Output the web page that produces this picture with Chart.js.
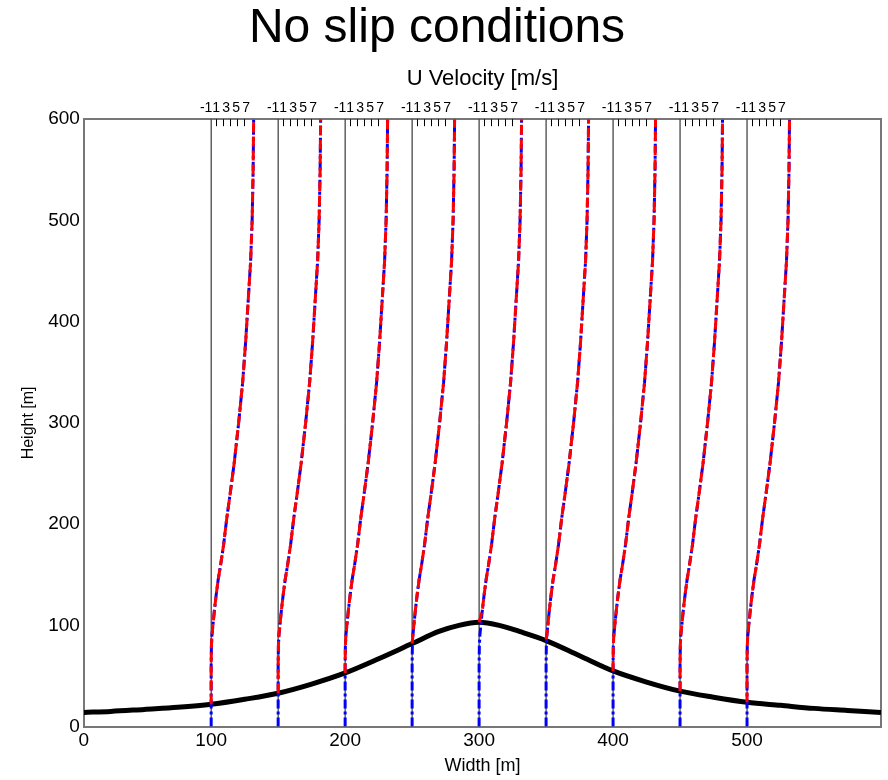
<!DOCTYPE html>
<html>
<head>
<meta charset="utf-8">
<script src="https://cdn.jsdelivr.net/npm/chart.js@4"></script>
<style>
  body { margin: 0; background: #fff; }
</style>
</head>
<body>
<canvas id="myChart" width="888" height="780"></canvas>
<script>
// profile stations along the width [m] and ground height under each of them
const stations = [100, 150, 200, 250, 300, 350, 400, 450, 500];
const groundAtStation = [22, 33, 53, 82, 103, 86, 55, 35, 24];

// terrain (hill)
const terrainX = [5, 25, 50, 75, 100, 125, 150, 175, 200, 225, 250, 270, 285, 300, 315, 330, 350, 375, 400, 425, 450, 475, 500, 525, 550, 575, 600];
const terrainY = [14, 15, 17, 19, 22, 27, 33, 42, 53, 67, 82, 94, 100, 103, 100, 94, 85, 70, 55, 44, 35, 29, 24, 21, 18, 16, 14];

// U velocity profile [m/s] against height [m] (same shape at every station)
const heights  = [0, 20, 40, 60, 80, 90, 100, 115, 130, 145, 160, 180, 205, 230, 260, 300, 340, 380, 420, 460, 500, 550, 600];
const uProfile = [0, 0, 0, 0, 0.05, 0.15, 0.35, 0.65, 1.0, 1.4, 1.9, 2.5, 3.1, 3.8, 4.6, 5.5, 6.3, 6.9, 7.4, 7.9, 8.2, 8.4, 8.5];

// tick labels
const uTickLabels = [-1, 1, 3, 5, 7];
const uMinorTicks = [1, 2.4, 3.8, 5.2, 6.6];
const xTickValues = [5, 100, 200, 300, 400, 500];
const yTickValues = [0, 100, 200, 300, 400, 500, 600];

const titleText = 'No slip conditions';
const uScale = 3.73; // metres of width per 1 m/s of velocity
const FONT = "'Liberation Sans', Arial, sans-serif";

const datasets = [];

// red profiles (from the ground up) on top, blue profiles (whole column) below
stations.forEach((s, i) => {
  const red = [{x: s, y: groundAtStation[i]}];
  heights.forEach((h, k) => {
    if (h > groundAtStation[i]) red.push({x: s + uProfile[k] * uScale, y: h});
  });
  datasets.push({
    data: red,
    borderColor: '#ff0000',
    borderWidth: 3,
    borderDash: [10, 4],
    order: 1
  });
  datasets.push({
    data: heights.map((h, k) => ({x: s + uProfile[k] * uScale, y: h})),
    borderColor: '#0000ff',
    borderWidth: 3,
    borderDash: [9, 3, 3, 3],
    order: 2
  });
});

datasets.push({
  data: terrainX.map((x, i) => ({x: x, y: terrainY[i]})),
  borderColor: '#000',
  borderWidth: 5,
  cubicInterpolationMode: 'monotone',
  order: 3
});

stations.forEach(s => {
  datasets.push({
    data: [{x: s, y: 0}, {x: s, y: 600}],
    borderColor: '#111',
    borderWidth: 1,
    order: 4
  });
});

// small tick marks hanging inside the top border
const innerTicks = {
  id: 'innerTicks',
  afterDatasetsDraw(chart) {
    const sx = chart.scales.x;
    const top = chart.chartArea.top;
    const ctx = chart.ctx;
    ctx.save();
    ctx.strokeStyle = '#000';
    ctx.lineWidth = 1;
    stations.forEach(s => uMinorTicks.forEach(u => {
      const px = Math.round(sx.getPixelForValue(s + u * uScale)) + 0.5;
      ctx.beginPath();
      ctx.moveTo(px, top);
      ctx.lineTo(px, top + 7);
      ctx.stroke();
    }));
    ctx.restore();
  }
};

// big title, centred on the page rather than on the plot
const pageTitle = {
  id: 'pageTitle',
  afterDraw(chart) {
    const ctx = chart.ctx;
    ctx.save();
    ctx.fillStyle = '#000';
    ctx.font = '48px ' + FONT;
    ctx.textAlign = 'center';
    ctx.textBaseline = 'middle';
    ctx.fillText(titleText, 437, 29);
    ctx.restore();
  }
};

new Chart(document.getElementById('myChart').getContext('2d'), {
  type: 'scatter',
  data: {datasets: datasets},
  options: {
    responsive: false,
    animation: false,
    devicePixelRatio: 1,
    layout: {padding: {left: 19, right: 7, top: 66, bottom: 3}},
    datasets: {scatter: {showLine: true, pointRadius: 0, fill: false}},
    plugins: {
      legend: {display: false},
      tooltip: {enabled: false},
      title: {display: false}
    },
    scales: {
      x: {
        type: 'linear',
        position: 'bottom',
        min: 5,
        max: 600,
        afterBuildTicks: axis => { axis.ticks = xTickValues.map(v => ({value: v})); },
        ticks: {
          callback: v => (v < 50 ? '0' : v),
          color: '#000',
          font: {family: FONT, size: 19},
          maxRotation: 0,
          padding: 3
        },
        grid: {display: false, drawTicks: false},
        border: {display: true, color: '#777', width: 2},
        title: {display: true, text: 'Width [m]', color: '#000', font: {family: FONT, size: 18}, padding: 0}
      },
      xTop: {
        type: 'linear',
        position: 'top',
        min: 5,
        max: 600,
        afterBuildTicks: axis => {
          axis.ticks = stations.flatMap(s => uTickLabels.map(u => ({value: s + u * uScale})));
        },
        ticks: {
          callback: (v, i) => uTickLabels[i % uTickLabels.length],
          autoSkip: false,
          maxRotation: 0,
          minRotation: 0,
          color: '#000',
          font: {family: FONT, size: 14},
          padding: 3
        },
        grid: {display: false, drawTicks: false},
        border: {display: true, color: '#777', width: 2},
        title: {display: true, text: 'U Velocity [m/s]', color: '#000', font: {family: FONT, size: 22}, padding: {top: 0, bottom: 4}}
      },
      y: {
        type: 'linear',
        min: 0,
        max: 600,
        afterBuildTicks: axis => { axis.ticks = yTickValues.map(v => ({value: v})); },
        ticks: {color: '#000', font: {family: FONT, size: 19}, padding: 4},
        grid: {display: false, drawTicks: false},
        border: {display: true, color: '#777', width: 2},
        title: {display: true, text: 'Height [m]', color: '#000', font: {family: FONT, size: 16}, padding: {top: 0, bottom: 6}}
      },
      y2: {
        type: 'linear',
        position: 'right',
        min: 0,
        max: 600,
        ticks: {display: false},
        grid: {display: false, drawTicks: false},
        border: {display: true, color: '#777', width: 2}
      }
    }
  },
  plugins: [innerTicks, pageTitle]
});
</script>
</body>
</html>
